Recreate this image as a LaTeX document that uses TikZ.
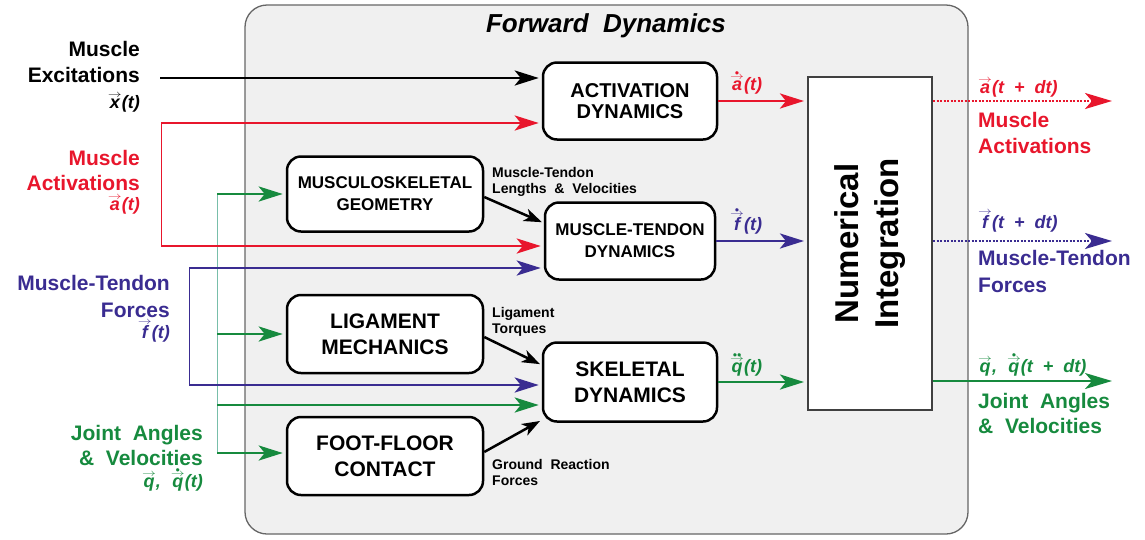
\documentclass[tikz,border=0pt]{standalone}
\usepackage{fontspec}
\setmainfont{Liberation Sans}
\usepackage{graphicx}
\usetikzlibrary{arrows.meta}
\definecolor{actred}{RGB}{232,22,44}
\definecolor{mtblue}{RGB}{58,44,145}
\definecolor{jagreen}{RGB}{22,138,62}
\definecolor{jateal}{RGB}{120,190,170}
\newcommand{\fs}[2]{\fontsize{#1}{#2}\selectfont}
\newcommand{\ontop}[2]{\leavevmode\vbox{\offinterlineskip\halign{\hfil##\hfil\cr#1\cr\noalign{\kern0.5pt}#2\cr}}}
\newcommand{\varr}{\scalebox{0.8}[0.6]{$\rightarrow$}}
\newcommand{\vdot}{\scalebox{0.5}{$\bullet$}}
\newcommand{\avec}[1]{\ontop{\varr}{#1}}
\newcommand{\advec}[1]{\ontop{\vdot}{\ontop{\varr}{#1}}}
\newcommand{\addvec}[1]{\ontop{\vdot\vdot}{\ontop{\varr}{#1}}}
\begin{document}
\begin{tikzpicture}[x=1pt, y=-1pt,
  block/.style={draw, line width=2.5pt, rounded corners=14pt, fill=white, align=center, inner sep=0pt, font=\bfseries\fs{21}{26}},
  arrow/.style={line width=2.8pt, -{Stealth[length=24pt,width=15pt,inset=6pt]}, shorten >=3pt},
  diag/.style={line width=2.5pt, -{Stealth[length=18pt,width=13pt,inset=5pt]}, shorten >=2pt},
  outarrow/.style={line width=2.8pt, -{Stealth[length=27pt,width=16pt,inset=7pt]}},
  dots/.style={dash pattern=on 2pt off 1.5pt},
  feed/.style={line width=1pt},
  tag/.style={inner sep=0pt, font=\bfseries\fs{21}{26}},
  note/.style={inner sep=0pt, align=left, font=\bfseries\fs{14}{16}},
  sym/.style={inner sep=0pt, font=\bfseries\itshape\fs{18}{20}}]
  \useasboundingbox (0,0) rectangle (1145,539);
  % Define nodes
  \draw[rounded corners=22pt, fill=gray!12, draw=gray!80!black, line width=1.3pt] (245,5) rectangle (968,534);
  \node[font=\bfseries\itshape\fs{26}{30}] (title) at (606,26) {Forward~ Dynamics};
  \node[block, minimum width=174pt, minimum height=77pt, font=\bfseries\fs{20}{21}] (act) at (630,101) {ACTIVATION\\DYNAMICS};
  \node[block, minimum width=196pt, minimum height=75pt, font=\bfseries\fs{17}{22}] (geom) at (385,194) {MUSCULOSKELETAL\\GEOMETRY};
  \node[block, minimum width=170pt, minimum height=77pt, font=\bfseries\fs{17}{22}] (mtd) at (630,241) {MUSCLE-TENDON\\DYNAMICS};
  \node[block, minimum width=196pt, minimum height=78pt] (lig) at (385,334) {LIGAMENT\\MECHANICS};
  \node[block, minimum width=174pt, minimum height=79pt] (skel) at (630,382) {SKELETAL\\DYNAMICS};
  \node[block, minimum width=196pt, minimum height=78pt] (foot) at (385,456) {FOOT-FLOOR\\CONTACT};
  \node[draw=black!75, line width=2pt, fill=white, minimum width=124pt, minimum height=333pt] (nint) at (870,243.5) {};
  \node[rotate=90, align=center, font=\bfseries\fs{33}{40}] (nintlabel) at (nint.center) {Numerical\\Integration};
  % left inputs
  \node[tag, anchor=base east, align=right] (exclabel) at (140,108) {Muscle\\Excitations\\{\itshape\fs{18}{20}\avec{x}(t)}};
  \node[tag, anchor=base east, align=right, actred] (actlabel) at (140,210) {Muscle\\[-1pt]Activations\\[-6pt]{\itshape\fs{18}{20}\avec{a}(t)}};
  \node[tag, anchor=base east, align=right, mtblue] (mflabel) at (170,338) {Muscle-Tendon\\[1pt]Forces\\[-5pt]{\itshape\fs{18}{20}\avec{f}(t)}};
  \node[tag, anchor=base east, align=right, jagreen] (jalabel) at (203,487) {Joint~ Angles\\[-1pt]\&~ Velocities\\[-4pt]{\itshape\fs{18}{20}\avec{q},~~\advec{q}(t)}};
  % connector notes
  \node[note, anchor=base west] (geomnote) at (492,193) {Muscle-Tendon\\Lengths~ \&~ Velocities};
  \node[note, anchor=base west] (lignote) at (492,333) {Ligament\\Torques};
  \node[note, anchor=base west] (footnote) at (492,485) {Ground~ Reaction\\Forces};
  \node[sym, anchor=base west, actred] (adot) at (730,90) {\advec{a}(t)};
  \node[sym, anchor=base west, mtblue] (fdot) at (730,230) {\advec{f}(t)};
  \node[sym, anchor=base west, jagreen] (qddot) at (730,372) {\addvec{q}(t)};
  % right outputs
  \node[sym, anchor=base west, actred] (anext) at (978,93) {\avec{a}(t~ +~ dt)};
  \node[tag, anchor=base west, align=left, actred] (aoutlabel) at (978,153) {Muscle\\[0pt]Activations};
  \node[sym, anchor=base west, mtblue] (fnext) at (978,228) {\avec{f}(t~ +~ dt)};
  \node[tag, anchor=base west, align=left, mtblue] (foutlabel) at (978,292) {Muscle-Tendon\\[1pt]Forces};
  \node[sym, anchor=base west, jagreen] (qnext) at (978,372) {\avec{q},~~\advec{q}(t~ +~ dt)};
  \node[tag, anchor=base west, align=left, jagreen] (qoutlabel) at (978,433) {Joint~ Angles\\[-1pt]\&~ Velocities};
  \coordinate (excin) at (160,78);
  \coordinate (acttop) at (161,123);
  \coordinate (actbot) at (161,246);
  \coordinate (mftop) at (189,268);
  \coordinate (mfbot) at (189,385);
  \coordinate (jatop) at (217,194);
  \coordinate (jamid) at (217,405);
  \coordinate (jabot) at (217,453);
  \coordinate (aout) at (1112,101);
  \coordinate (fout) at (1112,241);
  \coordinate (qout) at (1112,381);
  % Define edges
  \draw[feed, actred] (acttop) -- (actbot);
  \draw[feed, mtblue] (mftop) -- (mfbot);
  \draw[feed, jateal] (jatop) -- (jabot);
  \draw[arrow] (excin) -- (excin -| act.west);
  \draw[arrow, actred] (acttop) -- (acttop -| act.west);
  \draw[arrow, actred] (actbot) -- (actbot -| mtd.west);
  \draw[arrow, mtblue] (mftop) -- (mftop -| mtd.west);
  \draw[arrow, mtblue] (mfbot) -- (mfbot -| skel.west);
  \draw[arrow, jagreen] (jatop) -- (geom.west);
  \draw[arrow, jagreen] (jatop |- lig.west) -- (lig.west);
  \draw[arrow, jagreen] (jamid) -- (jamid -| skel.west);
  \draw[arrow, jagreen] (jabot) -- (jabot -| foot.west);
  \draw[diag] ([yshift=-3pt]geom.east) -- ([yshift=18pt]mtd.west);
  \draw[diag] ([yshift=-3pt]lig.east) -- ([yshift=17pt]skel.west);
  \draw[diag] ([yshift=4pt]foot.east) -- ([yshift=-38pt]skel.west);
  \draw[arrow, actred] (act.east) -- (act.east -| nint.west);
  \draw[arrow, mtblue] (mtd.east) -- (mtd.east -| nint.west);
  \draw[arrow, jagreen] (skel.east) -- (skel.east -| nint.west);
  \draw[outarrow, dots, actred] (nint.east |- aout) -- (aout);
  \draw[outarrow, dots, mtblue] (nint.east |- fout) -- (fout);
  \draw[outarrow, jagreen, line width=2pt] (nint.east |- qout) -- (qout);
\end{tikzpicture}
\end{document}
